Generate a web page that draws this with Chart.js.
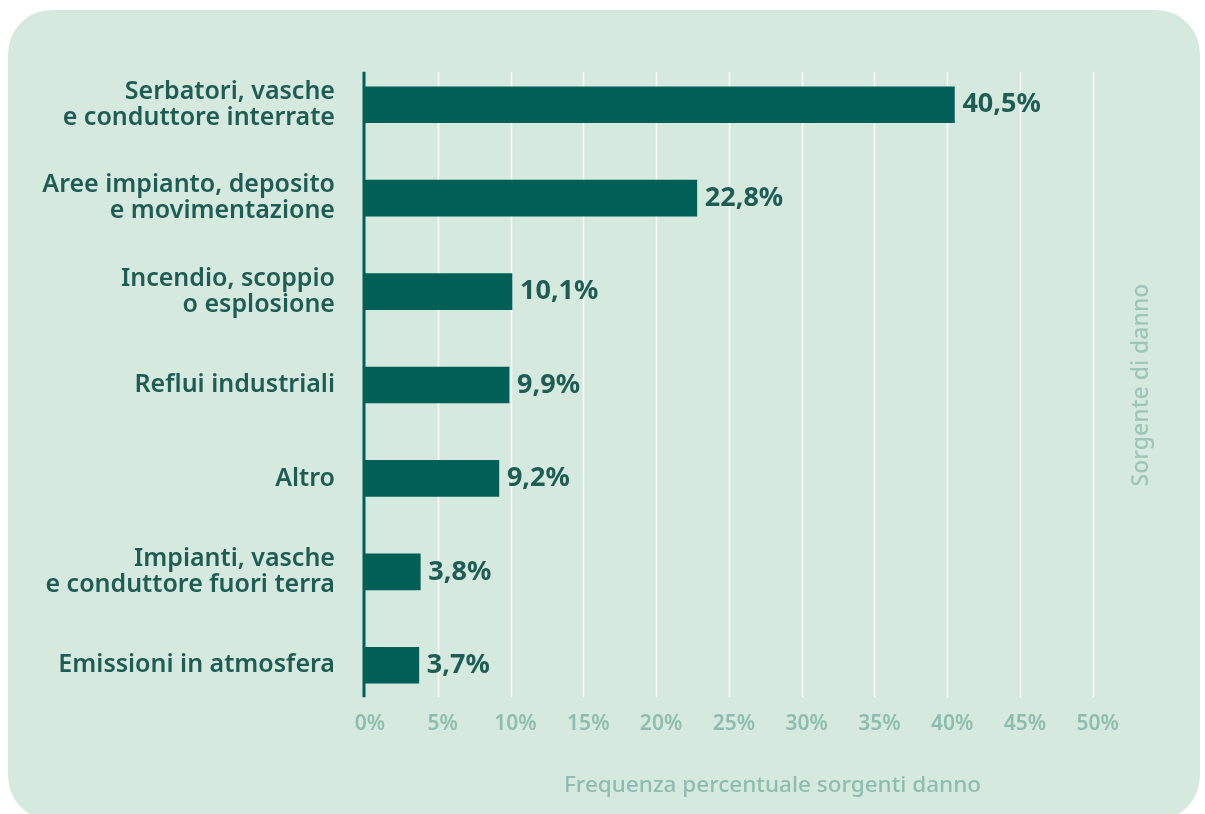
<!DOCTYPE html>
<html lang="it">
<head>
<meta charset="utf-8">
<title>Sorgenti di danno</title>
<script src="https://cdn.jsdelivr.net/npm/chart.js@4/dist/chart.umd.min.js"></script>
<style>
  html, body { margin: 0; padding: 0; background: #ffffff; }
  body { width: 1205px; height: 814px; position: relative; overflow: hidden; }
  .panel {
    position: absolute; left: 8px; top: 10px; width: 1192px; height: 810px;
    background: #d6e9df; border-radius: 44px;
  }
  .wrap { position: absolute; left: 0; top: 0; width: 1205px; height: 814px; }
</style>
</head>
<body>
<div class="panel"></div>
<div class="wrap"><canvas id="chart"></canvas></div>
<script>
// sorgenti di danno (etichette su due righe dove serve)
const categorie = [
  ["Serbatori, vasche", "e conduttore interrate"],
  ["Aree impianto, deposito", "e movimentazione"],
  ["Incendio, scoppio", "o esplosione"],
  "Reflui industriali",
  "Altro",
  ["Impianti, vasche", "e conduttore fuori terra"],
  "Emissioni in atmosfera"
];
const frequenze = [40.5, 22.8, 10.1, 9.9, 9.2, 3.8, 3.7];
const tickPercentuali = [0, 5, 10, 15, 20, 25, 30, 35, 40, 45, 50];

const VERDE_BARRE = "#005f56";
const VERDE_TESTO = "#1e5d54";
const VERDE_CHIARO = "#8dbdaf";
const FONT = "'Noto Sans', sans-serif";

const fmt = v => v.toFixed(1).replace('.', ',') + '%';

// griglia verticale bianca + asse scuro, più corti dell'area del grafico
const grigliaPlugin = {
  id: 'griglia',
  beforeDatasetsDraw(chart) {
    const { ctx, scales: { x, y } } = chart;
    const top = y.getPixelForValue(0) - 33;
    const bottom = y.getPixelForValue(categorie.length - 1) + 32;
    ctx.save();
    ctx.strokeStyle = 'rgba(255,255,255,0.85)';
    ctx.lineWidth = 1.5;
    tickPercentuali.slice(1).forEach(t => {
      const px = Math.round(x.getPixelForValue(t)) + 0.5;
      ctx.beginPath(); ctx.moveTo(px, top); ctx.lineTo(px, bottom); ctx.stroke();
    });
    ctx.strokeStyle = VERDE_BARRE;
    ctx.lineWidth = 3;
    const x0 = x.getPixelForValue(0) - 1;
    ctx.beginPath(); ctx.moveTo(x0, top); ctx.lineTo(x0, bottom); ctx.stroke();
    ctx.restore();
  },
  afterDatasetsDraw(chart) {
    const { ctx, chartArea } = chart;
    const meta = chart.getDatasetMeta(0);
    ctx.save();
    ctx.fillStyle = VERDE_TESTO;
    ctx.font = `bold 27px ${FONT}`;
    ctx.textAlign = 'left';
    ctx.textBaseline = 'middle';
    meta.data.forEach((bar, i) => {
      ctx.fillText(fmt(frequenze[i]), bar.x + 8, bar.y);
    });
    // titolo verticale a destra
    ctx.fillStyle = '#9cc6b8';
    ctx.font = `500 23px ${FONT}`;
    ctx.textAlign = 'center';
    ctx.translate(1141, (chartArea.top + chartArea.bottom) / 2);
    ctx.rotate(-Math.PI / 2);
    ctx.fillText('Sorgente di danno', 0, 0);
    ctx.restore();
  }
};

new Chart(document.getElementById('chart'), {
  type: 'bar',
  data: {
    labels: categorie,
    datasets: [{
      data: frequenze,
      backgroundColor: VERDE_BARRE,
      borderWidth: 0,
      barThickness: 36
    }]
  },
  options: {
    indexAxis: 'y',
    responsive: true,
    maintainAspectRatio: false,
    animation: false,
    layout: { padding: { left: 8, top: 58, right: 25, bottom: 0 } },
    plugins: { legend: { display: false }, tooltip: { enabled: false } },
    scales: {
      x: {
        min: 0, max: 56,
        afterBuildTicks: s => { s.ticks = tickPercentuali.map(v => ({ value: v })); },
        afterFit: s => { s.height = 102; },
        grid: { display: false },
        border: { display: false },
        ticks: {
          padding: -9,
          labelOffset: 5,
          color: VERDE_CHIARO,
          font: { family: FONT, size: 21, weight: '600' },
          callback: v => v + '%'
        },
        title: {
          display: true,
          text: 'Frequenza percentuale sorgenti danno',
          color: VERDE_CHIARO,
          font: { family: FONT, size: 22.5, weight: '500' },
          padding: { top: 0, bottom: 15 }
        }
      },
      y: {
        afterFit: s => { s.width = 357; },
        grid: { display: false },
        border: { display: false },
        ticks: {
          padding: 22,
          color: VERDE_TESTO,
          font: { family: FONT, size: 25, weight: '600', lineHeight: 1.04 }
        }
      }
    }
  },
  plugins: [grigliaPlugin]
});
</script>
</body>
</html>
